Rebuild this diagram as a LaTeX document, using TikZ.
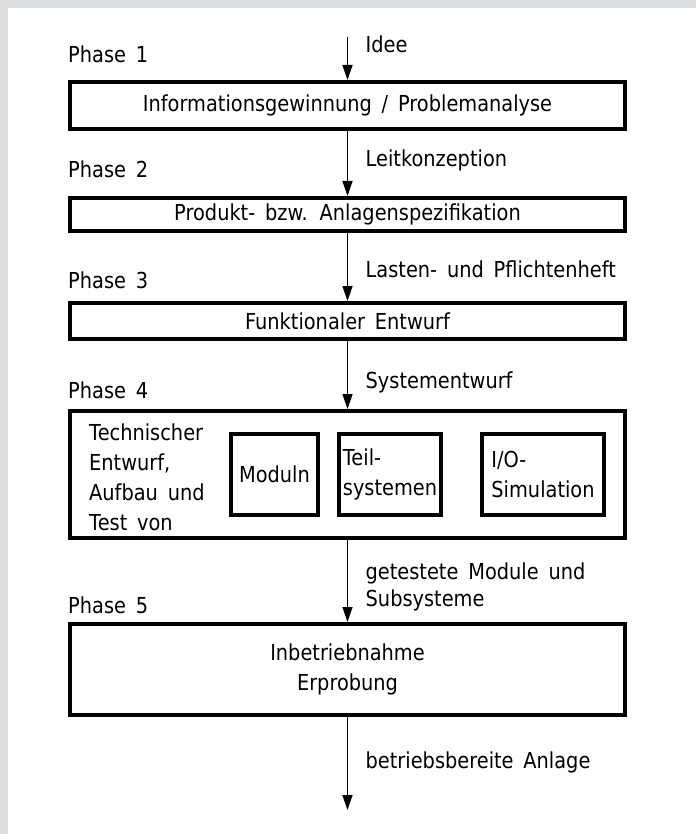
\documentclass[tikz,border=0pt]{standalone}
\usepackage{fontspec}
\setmainfont{DejaVu Sans}[FakeStretch=0.88,WordSpace=1.6]
\usepackage{tikz}
\usetikzlibrary{positioning,arrows.meta}
\definecolor{bggray}{RGB}{220,221,222}
\tikzstyle{line} = [draw,line width=1.4pt,-{Triangle[length=15pt,width=10pt]}]
\tikzstyle{phasebox} = [draw,line width=4pt,minimum width=555pt,inner sep=0pt,align=center]
\tikzstyle{subbox} = [draw,line width=4pt,minimum height=81pt,inner sep=0pt,align=left]
\tikzstyle{lbl} = [inner sep=0pt,align=left]

\begin{document}
\begin{tikzpicture}[x=1pt,y=-1pt,node distance=65pt,font=\fontsize{22}{30}\selectfont]
    \fill[bggray] (0,0) rectangle (696,834);
    \fill[white] (8,8) rectangle (696,834);
    \useasboundingbox (0,0) rectangle (696,834);

    % the five phases
    \node[phasebox,minimum height=47pt] (box1) at (347.5,105.5) {Informationsgewinnung / Problemanalyse};
    \node[phasebox,minimum height=33pt] (box2) [below=65pt of box1] {Produkt- bzw. Anlagenspezifikation};
    \node[phasebox,minimum height=36pt] (box3) [below=68pt of box2] {Funktionaler Entwurf};
    \node[phasebox,minimum height=127pt] (box4) [below=68pt of box3] {};
    \node[phasebox,minimum height=91pt] (box5) [below=82pt of box4] {Inbetriebnahme\\Erprobung};

    % inside phase 4
    \node[lbl,anchor=west,font=\fontsize{22}{30}\selectfont] (tech) at ([xshift=21pt,yshift=-3pt]box4.west) {Technischer\\Entwurf,\\Aufbau und\\Test von};
    \node[subbox,minimum width=87pt,anchor=west] (moduln) at ([xshift=161pt]box4.west) {Moduln};
    \node[subbox,minimum width=102pt] (teil) [right=17pt of moduln] {Teil-\\systemen};
    \node[subbox,minimum width=122pt] (io) [right=37pt of teil] {I/O-\\Simulation};

    % phase labels
    \node[lbl,anchor=base west] (ph1) at ([yshift=17pt]box1.north west) {Phase 1};
    \node[lbl,anchor=base west] (ph2) at ([yshift=18pt]box2.north west) {Phase 2};
    \node[lbl,anchor=base west] (ph3) at ([yshift=13pt]box3.north west) {Phase 3};
    \node[lbl,anchor=base west] (ph4) at ([yshift=11pt]box4.north west) {Phase 4};
    \node[lbl,anchor=base west] (ph5) at ([yshift=9pt]box5.north west) {Phase 5};

    % flow
    \coordinate (start) at ([yshift=43pt]box1.north);
    \coordinate (stop) at ([yshift=-93pt]box5.south);
    \path [line] (start) -- (box1);
    \path [line] (box1) -- (box2);
    \path [line] (box2) -- (box3);
    \path [line] (box3) -- (box4);
    \path [line] (box4) -- (box5);
    \path [line] (box5) -- (stop);

    \node[lbl,anchor=base west] (idee) at ([xshift=18pt,yshift=27pt]box1.north) {Idee};
    \node[lbl,anchor=base west] (leit) at ([xshift=18pt,yshift=29pt]box2.north) {Leitkonzeption};
    \node[lbl,anchor=base west] (heft) at ([xshift=18pt,yshift=24pt]box3.north) {Lasten- und Pflichtenheft};
    \node[lbl,anchor=base west] (sys) at ([xshift=18pt,yshift=21pt]box4.north) {Systementwurf};
    \node[lbl,anchor=south west,font=\fontsize{22}{27}\selectfont] (gtest) at ([xshift=18pt,yshift=11pt]box5.north) {getestete Module und\\Subsysteme};
    \node[lbl,anchor=base west] (bereit) at ([xshift=18pt,yshift=-51pt]box5.south) {betriebsbereite Anlage};
\end{tikzpicture}
\end{document}
